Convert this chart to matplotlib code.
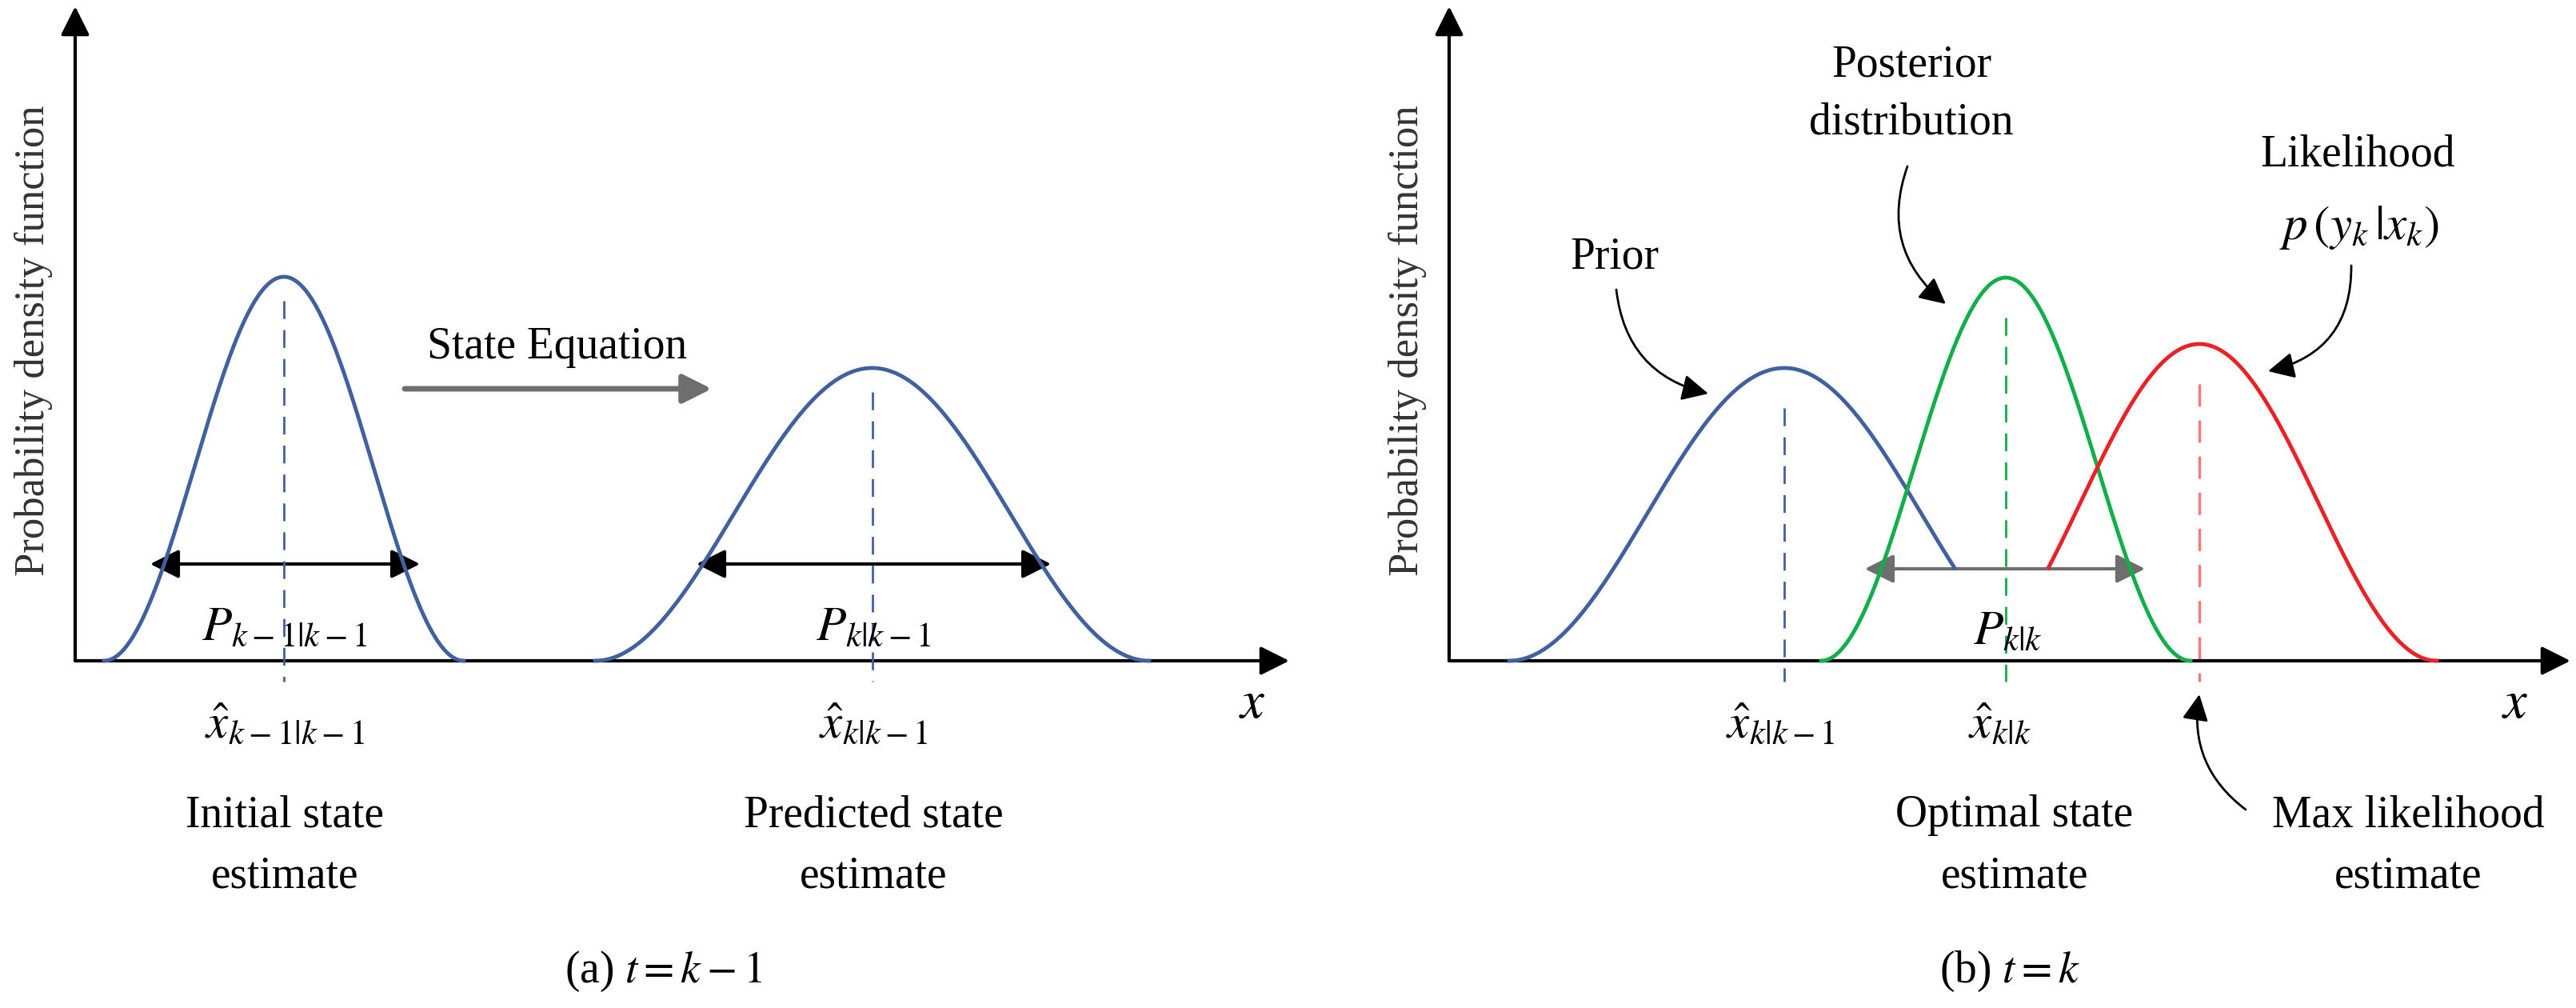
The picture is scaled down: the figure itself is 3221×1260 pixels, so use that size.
import numpy as np
import matplotlib.pyplot as plt
from matplotlib.patches import FancyArrowPatch

plt.rcParams['font.family'] = 'serif'
plt.rcParams['font.serif'] = ['Liberation Serif', 'DejaVu Serif']
plt.rcParams['mathtext.fontset'] = 'stix'

# bump curves: (start, end, peak height above baseline), in pixel units of the canvas
left_bumps = [(130, 580, 480), (744, 1437, 366)]
prior_bump = (1887, 2575, 366)
post_bump = (2277, 2739, 479)
like_bump = (2453, 3047, 396)
clip_y = 711            # level where prior / likelihood are cut
base_y = 826
BLUE, GREEN, RED, GRAY = '#41609F', '#12AE4A', '#EA2226', '#6E6E6E'

fig = plt.figure(figsize=(32.21, 12.60), dpi=100)
ax = fig.add_axes([0, 0, 1, 1])
ax.set_xlim(0, 3221)
ax.set_ylim(1260, 0)
ax.axis('off')

FS = 40


def bump(a, b, h, n=400):
    x = np.linspace(a, b, n)
    y = base_y - h * 0.5 * (1 - np.cos(2 * np.pi * (x - a) / (b - a)))
    return x, y


def harrow(x0, x1, y, color='black'):
    ax.add_patch(FancyArrowPatch((x0, y), (x1, y), arrowstyle='<|-|>', mutation_scale=55,
                                 color=color, lw=3))


def axes_frame(x0, x1):
    ax.add_patch(FancyArrowPatch((x0, base_y), (x0, 8), arrowstyle='-|>', mutation_scale=55,
                                 color='black', lw=3, shrinkA=0, shrinkB=0))
    ax.add_patch(FancyArrowPatch((x0, base_y), (x1, base_y), arrowstyle='-|>', mutation_scale=55,
                                 color='black', lw=3, shrinkA=0, shrinkB=0))
    ax.text(x0 - 52, 426, 'Probability density function', rotation=90, ha='center', va='center',
            fontsize=38, color='#333333')


# ---------------- panel (a) ----------------
axes_frame(94, 1612)
for (a, b, h) in left_bumps:
    x, y = bump(a, b, h)
    ax.plot(x, y, color=BLUE, lw=3.5)
    c = (a + b) / 2
    ax.plot([c, c], [base_y - h + 30, 852], color=BLUE, lw=2, ls=(0, (8, 5)))
harrow(185, 528, 705)
harrow(868, 1317, 705)
ax.text(356, 785, r'$P_{k-1|k-1}$', fontsize=FS + 4, ha='center', va='center')
ax.text(1092, 785, r'$P_{k|k-1}$', fontsize=FS + 4, ha='center', va='center')
ax.text(356, 908, r'$\hat{x}_{k-1|k-1}$', fontsize=FS + 4, ha='center', va='center')
ax.text(1092, 908, r'$\hat{x}_{k|k-1}$', fontsize=FS + 4, ha='center', va='center')
ax.text(356, 1057, 'Initial state\nestimate', fontsize=FS, ha='center', va='center', linespacing=1.6)
ax.text(1092, 1057, 'Predicted state\nestimate', fontsize=FS, ha='center', va='center', linespacing=1.6)
ax.text(697, 434, 'State Equation', fontsize=FS, ha='center', va='center')
ax.add_patch(FancyArrowPatch((506, 486), (890, 486), arrowstyle='-|>', mutation_scale=55,
                             color=GRAY, lw=5, shrinkA=0, shrinkB=0))
ax.text(1566, 880, r'$x$', fontsize=FS + 8, ha='center', va='center')
ax.text(830, 1214, r'(a) $t=k-1$', fontsize=FS, ha='center', va='center')

# ---------------- panel (b) ----------------
axes_frame(1812, 3214)
x, y = bump(*prior_bump)
m = (x <= (prior_bump[0] + prior_bump[1]) / 2) | (y <= clip_y)
ax.plot(x[m], y[m], color=BLUE, lw=3.5)
x, y = bump(*post_bump)
ax.plot(x, y, color=GREEN, lw=3.5)
x, y = bump(*like_bump)
m = (x >= (like_bump[0] + like_bump[1]) / 2) | (y <= clip_y)
ax.plot(x[m], y[m], color=RED, lw=3.5)
for (a, b, h), col, al in [(prior_bump, BLUE, 1), (post_bump, GREEN, 1), (like_bump, RED, 0.6)]:
    c = (a + b) / 2
    ax.plot([c, c], [base_y - h + 50, 852], color=col, lw=2.5 if al < 1 else 2,
            ls=(0, (8, 5)), alpha=al)
harrow(2329, 2685, clip_y, color=GRAY)
ax.text(2510, 790, r'$P_{k|k}$', fontsize=FS + 4, ha='center', va='center')
ax.text(2226, 908, r'$\hat{x}_{k|k-1}$', fontsize=FS + 4, ha='center', va='center')
ax.text(2500, 908, r'$\hat{x}_{k|k}$', fontsize=FS + 4, ha='center', va='center')
ax.text(3145, 880, r'$x$', fontsize=FS + 8, ha='center', va='center')
ax.text(2390, 117, 'Posterior\ndistribution', fontsize=FS, ha='center', va='center', linespacing=1.5)
ax.text(2948, 193, 'Likelihood', fontsize=FS, ha='center', va='center')
ax.text(2950, 285, r'$p\,(y_k\,|x_k)$', fontsize=FS + 4, ha='center', va='center')
ax.text(2019, 322, 'Prior', fontsize=FS, ha='center', va='center')
ax.text(2519, 1057, 'Optimal state\nestimate', fontsize=FS, ha='center', va='center', linespacing=1.6)
ax.text(3011, 1057, 'Max likelihood\nestimate', fontsize=FS, ha='center', va='center', linespacing=1.6)
ax.text(2513, 1214, r'(b) $t=k$', fontsize=FS, ha='center', va='center')

for (p0, p1, rad) in [((2021, 362), (2136, 492), 0.35), ((2385, 208), (2433, 380), 0.35),
                      ((2940, 332), (2836, 464), -0.4), ((2808, 1012), (2750, 868), -0.3)]:
    ax.add_patch(FancyArrowPatch(p0, p1, connectionstyle=f'arc3,rad={rad}', arrowstyle='-|>',
                                 mutation_scale=50, color='black', lw=2, shrinkA=0, shrinkB=0))

fig.savefig('out.png', dpi=100)
